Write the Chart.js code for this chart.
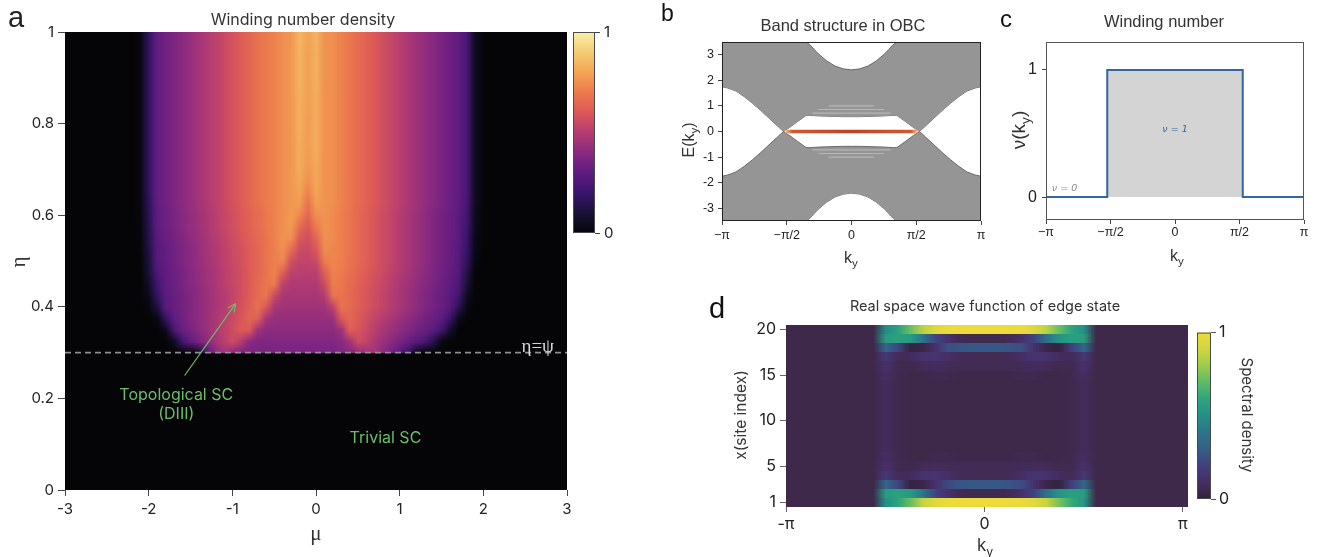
<!DOCTYPE html>
<html lang="en">
<head>
<meta charset="utf-8">
<title>Winding number / edge state figure</title>
<script src="https://cdn.jsdelivr.net/npm/chart.js@4.4.1/dist/chart.umd.min.js"></script>
<style>
  html, body { margin: 0; padding: 0; background: #fff; }
  #figure { position: relative; width: 1324px; height: 557px; overflow: hidden; background: #fff; }
  #figure canvas { position: absolute; }
</style>
</head>
<body>
<div id="figure">
  <canvas id="chart-a" width="640" height="557" style="left:0;top:0"></canvas>
  <canvas id="cbar-a"  width="80"  height="260" style="left:560px;top:0"></canvas>
  <canvas id="chart-b" width="360" height="280" style="left:640px;top:0"></canvas>
  <canvas id="chart-c" width="324" height="280" style="left:1000px;top:0"></canvas>
  <canvas id="chart-d" width="524" height="267" style="left:700px;top:290px"></canvas>
  <canvas id="cbar-d"  width="134" height="200" style="left:1190px;top:320px"></canvas>
</div>
<script>
'use strict';

const PI = Math.PI;

// ─────────────────────────────────────────────
// PANEL A — winding number density (rows = eta, columns = mu)
// lower part sampled finer in eta than the upper part
// ─────────────────────────────────────────────

const A_MU = [-2.3,-2.2,-2.1,-2.0,-1.9,-1.8,-1.7,-1.6,-1.5,-1.4,-1.3,-1.2,-1.1,-1.0,-0.9,-0.8,-0.7,-0.6,-0.5,-0.4,-0.3,-0.2,-0.1,0,
              0.1,0.2,0.3,0.4,0.5,0.6,0.7,0.8,0.9,1.0,1.1,1.2,1.3,1.4,1.5,1.6,1.7,1.8,1.9,2.0,2.1];

const A_ETA_LOW = [0.300,0.325,0.350,0.375,0.400,0.425,0.450,0.475,0.500,0.525,0.550,0.575,0.600,0.625,0.650,0.675,0.700];
const A_ETA_HIGH = [0.70,0.75,0.80,0.85,0.90,0.95,1.00];

const A_D300 = [0,0,0,0,0,0,0,0,0,0.06,0.26,0.40,0.46,0.40,0.37,0.36,0.36,0.36,0.36,0.36,0.36,0.36,0.36,0.36,0.36,0.36,0.37,
                0.38,0.41,0.45,0.46,0.40,0.34,0.28,0.18,0.04,0,0,0,0,0,0,0,0,0];
const A_D325 = [0,0,0,0,0,0,0.05,0.22,0.31,0.36,0.41,0.46,0.51,0.56,0.50,0.40,0.38,0.38,0.38,0.38,0.38,0.38,0.38,0.38,0.38,0.38,
                0.40,0.46,0.56,0.53,0.48,0.44,0.40,0.36,0.32,0.28,0.24,0.14,0.02,0,0,0,0,0,0];
const A_D350 = [0,0,0,0,0,0.04,0.24,0.32,0.36,0.40,0.44,0.48,0.52,0.56,0.61,0.60,0.45,0.41,0.41,0.41,0.41,0.41,0.41,0.41,0.41,0.41,
                0.45,0.62,0.59,0.55,0.51,0.47,0.44,0.41,0.38,0.35,0.32,0.29,0.22,0.08,0,0,0,0,0];
const A_D375 = [0,0,0,0,0.02,0.18,0.30,0.34,0.38,0.41,0.44,0.48,0.51,0.55,0.59,0.64,0.62,0.46,0.43,0.43,0.43,0.43,0.43,0.43,0.43,0.43,
                0.60,0.64,0.61,0.57,0.53,0.50,0.47,0.44,0.41,0.38,0.35,0.32,0.29,0.20,0.04,0,0,0,0];
const A_D400 = [0,0,0,0.02,0.12,0.28,0.32,0.35,0.38,0.41,0.44,0.47,0.50,0.54,0.58,0.62,0.67,0.60,0.47,0.45,0.45,0.45,0.45,0.45,0.45,
                0.52,0.68,0.65,0.62,0.59,0.56,0.53,0.50,0.47,0.44,0.41,0.38,0.35,0.32,0.28,0.16,0.02,0,0,0];
const A_D425 = [0,0,0,0.04,0.18,0.29,0.32,0.35,0.38,0.41,0.44,0.47,0.50,0.53,0.57,0.61,0.65,0.69,0.55,0.48,0.47,0.47,0.47,0.47,0.50,
                0.68,0.68,0.65,0.62,0.59,0.56,0.53,0.50,0.47,0.44,0.41,0.38,0.35,0.32,0.29,0.22,0.05,0,0,0];
const A_D450 = [0,0,0,0.07,0.22,0.30,0.33,0.36,0.39,0.42,0.45,0.48,0.51,0.54,0.57,0.61,0.65,0.69,0.70,0.52,0.49,0.49,0.49,0.49,0.56,
                0.71,0.69,0.66,0.63,0.60,0.57,0.54,0.51,0.48,0.45,0.42,0.39,0.36,0.33,0.30,0.25,0.10,0,0,0];
const A_D475 = [0,0,0,0.10,0.26,0.30,0.33,0.36,0.39,0.42,0.45,0.48,0.51,0.54,0.57,0.61,0.64,0.68,0.72,0.62,0.52,0.51,0.51,0.51,0.62,
                0.72,0.70,0.67,0.64,0.61,0.58,0.55,0.52,0.49,0.46,0.43,0.40,0.37,0.34,0.31,0.27,0.13,0,0,0];
const A_D500 = [0,0,0,0.12,0.28,0.31,0.34,0.37,0.40,0.43,0.46,0.49,0.52,0.55,0.58,0.61,0.64,0.68,0.71,0.73,0.57,0.53,0.53,0.55,0.70,
                0.73,0.71,0.68,0.65,0.62,0.59,0.56,0.53,0.50,0.47,0.44,0.41,0.38,0.35,0.32,0.28,0.17,0.02,0,0];
const A_D525 = [0,0,0.01,0.13,0.28,0.31,0.34,0.37,0.40,0.43,0.46,0.49,0.52,0.55,0.58,0.61,0.64,0.68,0.71,0.75,0.66,0.56,0.55,0.60,0.74,
                0.73,0.71,0.68,0.65,0.62,0.59,0.56,0.53,0.50,0.47,0.44,0.41,0.38,0.35,0.32,0.28,0.19,0.03,0,0];
const A_D550 = [0,0,0.01,0.14,0.29,0.32,0.35,0.38,0.41,0.44,0.47,0.50,0.53,0.56,0.59,0.62,0.65,0.68,0.72,0.76,0.75,0.60,0.57,0.64,0.75,
                0.74,0.71,0.68,0.65,0.62,0.59,0.56,0.53,0.50,0.47,0.44,0.41,0.38,0.35,0.32,0.29,0.20,0.03,0,0];
const A_D575 = [0,0,0.01,0.15,0.30,0.33,0.36,0.39,0.42,0.45,0.48,0.51,0.54,0.57,0.60,0.63,0.66,0.69,0.72,0.75,0.78,0.66,0.60,0.70,0.76,
                0.74,0.71,0.68,0.65,0.62,0.59,0.56,0.53,0.50,0.47,0.44,0.41,0.38,0.35,0.32,0.29,0.21,0.04,0,0];
const A_D600 = [0,0,0.02,0.16,0.30,0.33,0.36,0.39,0.42,0.45,0.48,0.51,0.54,0.57,0.60,0.63,0.66,0.69,0.72,0.75,0.78,0.73,0.64,0.75,0.76,
                0.74,0.71,0.68,0.65,0.62,0.59,0.56,0.53,0.50,0.47,0.44,0.41,0.38,0.35,0.32,0.29,0.22,0.04,0,0];
const A_D625 = [0,0,0.02,0.17,0.31,0.34,0.37,0.40,0.43,0.46,0.49,0.52,0.55,0.58,0.61,0.64,0.67,0.70,0.72,0.75,0.77,0.78,0.68,0.78,0.76,
                0.75,0.72,0.69,0.66,0.63,0.60,0.57,0.54,0.51,0.48,0.45,0.42,0.39,0.36,0.33,0.30,0.23,0.05,0,0];
const A_D650 = [0,0,0.02,0.18,0.31,0.34,0.37,0.40,0.43,0.46,0.49,0.52,0.55,0.58,0.61,0.64,0.67,0.70,0.72,0.75,0.77,0.80,0.72,0.80,0.76,
                0.75,0.72,0.69,0.66,0.63,0.60,0.57,0.54,0.51,0.48,0.45,0.42,0.39,0.36,0.33,0.30,0.24,0.05,0,0];
const A_D675 = [0,0,0.02,0.18,0.31,0.34,0.37,0.40,0.43,0.46,0.49,0.52,0.55,0.58,0.61,0.64,0.67,0.70,0.72,0.75,0.77,0.81,0.75,0.81,0.76,
                0.75,0.72,0.69,0.66,0.63,0.60,0.57,0.54,0.51,0.48,0.45,0.42,0.39,0.36,0.33,0.30,0.24,0.05,0,0];
const A_D700 = [0,0,0.02,0.18,0.31,0.34,0.37,0.40,0.43,0.46,0.49,0.52,0.55,0.58,0.61,0.64,0.67,0.70,0.72,0.75,0.77,0.82,0.77,0.81,0.76,
                0.75,0.72,0.69,0.66,0.63,0.60,0.57,0.54,0.51,0.48,0.45,0.42,0.39,0.36,0.33,0.30,0.24,0.05,0,0];
const A_D750 = [0,0,0.02,0.18,0.31,0.34,0.37,0.40,0.43,0.46,0.49,0.52,0.55,0.58,0.61,0.64,0.67,0.70,0.72,0.75,0.77,0.82,0.78,0.82,0.76,
                0.75,0.72,0.69,0.66,0.63,0.60,0.57,0.54,0.51,0.48,0.45,0.42,0.39,0.36,0.33,0.30,0.24,0.05,0,0];
const A_D800 = [0,0,0.02,0.18,0.31,0.34,0.37,0.40,0.43,0.46,0.49,0.52,0.55,0.58,0.61,0.64,0.67,0.70,0.72,0.75,0.77,0.83,0.78,0.82,0.76,
                0.75,0.72,0.69,0.66,0.63,0.60,0.57,0.54,0.51,0.48,0.45,0.42,0.39,0.36,0.33,0.30,0.24,0.05,0,0];
const A_D850 = [0,0,0.02,0.18,0.31,0.34,0.37,0.40,0.43,0.46,0.49,0.52,0.55,0.58,0.61,0.64,0.67,0.70,0.72,0.75,0.77,0.83,0.79,0.82,0.76,
                0.75,0.72,0.69,0.66,0.63,0.60,0.57,0.54,0.51,0.48,0.45,0.42,0.39,0.36,0.33,0.30,0.24,0.05,0,0];
const A_D900 = [0,0,0.02,0.18,0.31,0.34,0.37,0.40,0.43,0.46,0.49,0.52,0.55,0.58,0.61,0.64,0.67,0.70,0.72,0.75,0.77,0.84,0.79,0.83,0.76,
                0.75,0.72,0.69,0.66,0.63,0.60,0.57,0.54,0.51,0.48,0.45,0.42,0.39,0.36,0.33,0.30,0.24,0.05,0,0];
const A_D950 = [0,0,0.02,0.18,0.31,0.34,0.37,0.40,0.43,0.46,0.49,0.52,0.55,0.58,0.61,0.64,0.67,0.70,0.72,0.75,0.77,0.84,0.79,0.83,0.76,
                0.75,0.72,0.69,0.66,0.63,0.60,0.57,0.54,0.51,0.48,0.45,0.42,0.39,0.36,0.33,0.30,0.24,0.05,0,0];
const A_D1000 = [0,0,0.02,0.18,0.31,0.34,0.37,0.40,0.43,0.46,0.49,0.52,0.55,0.58,0.61,0.64,0.67,0.70,0.72,0.75,0.77,0.85,0.80,0.84,0.76,
                 0.75,0.72,0.69,0.66,0.63,0.60,0.57,0.54,0.51,0.48,0.45,0.42,0.39,0.36,0.33,0.30,0.24,0.05,0,0];

const A_DENSITY_LOW = [A_D300, A_D325, A_D350, A_D375, A_D400, A_D425, A_D450, A_D475, A_D500,
                       A_D525, A_D550, A_D575, A_D600, A_D625, A_D650, A_D675, A_D700];
const A_DENSITY_HIGH = [A_D700, A_D750, A_D800, A_D850, A_D900, A_D950, A_D1000];

const A_MU_TICKS  = [-3, -2, -1, 0, 1, 2, 3];
const A_ETA_TICKS = [0, 0.2, 0.4, 0.6, 0.8, 1];
const A_PSI       = 0.3;                 // eta = psi phase boundary
const A_ARROW_MU  = [-1.57, -0.96];
const A_ARROW_ETA = [0.25, 0.407];
const CBAR_TICKS  = [0, 1];

// ─────────────────────────────────────────────
// PANEL B — band structure (edges of the band continua)
// ─────────────────────────────────────────────

const B_K = [-3.1416,-3.0,-2.8,-2.6,-2.4,-2.2,-2.0,-1.8,-1.65,-1.5,-1.3,-1.1,-1.0,-0.9,-0.8,-0.6,-0.4,-0.2,0,
             0.2,0.4,0.6,0.8,0.9,1.0,1.1,1.3,1.5,1.65,1.8,2.0,2.2,2.4,2.6,2.8,3.0,3.1416];
const B_UP_TOP = [3.5,3.5,3.5,3.5,3.5,3.5,3.5,3.5,3.5,3.5,3.5,3.5,3.38,3.2,3.03,2.76,2.56,2.45,2.41,
                  2.45,2.56,2.76,3.03,3.2,3.38,3.5,3.5,3.5,3.5,3.5,3.5,3.5,3.5,3.5,3.5,3.5,3.5];
const B_UP_BOT = [1.75,1.7,1.58,1.36,1.1,0.82,0.52,0.22,0,0.16,0.4,0.63,0.63,0.62,0.61,0.6,0.59,0.58,0.58,
                  0.58,0.59,0.6,0.61,0.62,0.63,0.63,0.4,0.16,0,0.22,0.52,0.82,1.1,1.36,1.58,1.7,1.75];
const B_LO_TOP = [-1.75,-1.7,-1.58,-1.36,-1.1,-0.82,-0.52,-0.22,0,-0.16,-0.4,-0.63,-0.63,-0.62,-0.61,-0.6,-0.59,-0.58,-0.58,
                  -0.58,-0.59,-0.6,-0.61,-0.62,-0.63,-0.63,-0.4,-0.16,0,-0.22,-0.52,-0.82,-1.1,-1.36,-1.58,-1.7,-1.75];
const B_LO_BOT = [-3.5,-3.5,-3.5,-3.5,-3.5,-3.5,-3.5,-3.5,-3.5,-3.5,-3.5,-3.5,-3.38,-3.2,-3.03,-2.76,-2.56,-2.45,-2.41,
                  -2.45,-2.56,-2.76,-3.03,-3.2,-3.38,-3.5,-3.5,-3.5,-3.5,-3.5,-3.5,-3.5,-3.5,-3.5,-3.5,-3.5,-3.5];

// sparse light streaks inside the inner bands
const B_STREAK_E  = [0.72, 0.86, 1.00, -0.72, -0.86, -1.00];
const B_STREAK_K0 = [-0.95, -0.80, -0.55, -0.95, -0.80, -0.55];
const B_STREAK_K1 = [0.95, 0.80, 0.55, 0.95, 0.80, 0.55];

// zero-energy edge state
const B_EDGE_K = [-1.6, 1.6];
const B_EDGE_E = [0, 0];

const K_TICKS   = [-PI, -PI / 2, 0, PI / 2, PI];
const K_LABELS  = ['−π', '−π/2', '0', 'π/2', 'π'];
const B_E_TICKS = [-3, -2, -1, 0, 1, 2, 3];

// ─────────────────────────────────────────────
// PANEL C — winding number
// ─────────────────────────────────────────────

const C_K  = [-PI, -1.65, -1.65, 1.65, 1.65, PI];
const C_NU = [0, 0, 1, 1, 0, 0];
const C_NU_TICKS = [0, 1];

// ─────────────────────────────────────────────
// PANEL D — edge state wave function (rows = site 1..20, columns = ky)
// ─────────────────────────────────────────────

const D_KY = [-3.142,-2.945,-2.749,-2.553,-2.356,-2.160,-1.963,-1.767,-1.571,-1.374,-1.178,-0.982,-0.785,-0.589,-0.393,-0.196,0,
              0.196,0.393,0.589,0.785,0.982,1.178,1.374,1.571,1.767,1.963,2.160,2.356,2.553,2.749,2.945,3.142];
const D_SITE = [1,2,3,4,5,6,7,8,9,10,11,12,13,14,15,16,17,18,19,20];

const D_R01 = [0.05,0.05,0.05,0.05,0.05,0.05,0.05,0.05, 0.50,0.60,0.72,0.88,0.96,0.99,1.00,1.00,1.00,1.00,1.00,0.99,0.96,0.88,0.74,0.62,0.52, 0.05,0.05,0.05,0.05,0.05,0.05,0.05,0.05];
const D_R02 = [0.05,0.05,0.05,0.05,0.05,0.05,0.05,0.05, 0.55,0.58,0.55,0.40,0.22,0.12,0.07,0.06,0.06,0.06,0.07,0.12,0.22,0.38,0.52,0.57,0.56, 0.05,0.05,0.05,0.05,0.05,0.05,0.05,0.05];
const D_R03 = [0.05,0.05,0.05,0.05,0.05,0.05,0.05,0.05, 0.33,0.22,0.02,0.04,0.12,0.24,0.27,0.28,0.28,0.28,0.27,0.24,0.12,0.04,0.02,0.20,0.34, 0.05,0.05,0.05,0.05,0.05,0.05,0.05,0.05];
const D_R04 = [0.05,0.05,0.05,0.05,0.05,0.05,0.05,0.05, 0.16,0.08,0.09,0.13,0.14,0.11,0.08,0.07,0.07,0.07,0.08,0.11,0.14,0.13,0.09,0.08,0.16, 0.05,0.05,0.05,0.05,0.05,0.05,0.05,0.05];
const D_R05 = [0.05,0.05,0.05,0.05,0.05,0.05,0.05,0.05, 0.12,0.06,0.06,0.08,0.09,0.08,0.07,0.07,0.07,0.07,0.07,0.08,0.09,0.08,0.06,0.06,0.12, 0.05,0.05,0.05,0.05,0.05,0.05,0.05,0.05];
const D_R06 = [0.05,0.05,0.05,0.05,0.05,0.05,0.05,0.05, 0.10,0.06,0.05,0.05,0.06,0.06,0.05,0.05,0.05,0.05,0.05,0.06,0.06,0.05,0.05,0.06,0.10, 0.05,0.05,0.05,0.05,0.05,0.05,0.05,0.05];
const D_R07 = [0.05,0.05,0.05,0.05,0.05,0.05,0.05,0.05, 0.09,0.055,0.05,0.05,0.05,0.05,0.05,0.05,0.05,0.05,0.05,0.05,0.05,0.05,0.05,0.055,0.09, 0.05,0.05,0.05,0.05,0.05,0.05,0.05,0.05];
const D_R08 = [0.05,0.05,0.05,0.05,0.05,0.05,0.05,0.05, 0.09,0.055,0.05,0.05,0.05,0.05,0.05,0.05,0.05,0.05,0.05,0.05,0.05,0.05,0.05,0.055,0.09, 0.05,0.05,0.05,0.05,0.05,0.05,0.05,0.05];
const D_R09 = [0.05,0.05,0.05,0.05,0.05,0.05,0.05,0.05, 0.09,0.055,0.05,0.05,0.05,0.05,0.05,0.05,0.05,0.05,0.05,0.05,0.05,0.05,0.05,0.055,0.09, 0.05,0.05,0.05,0.05,0.05,0.05,0.05,0.05];
const D_R10 = [0.05,0.05,0.05,0.05,0.05,0.05,0.05,0.05, 0.09,0.055,0.05,0.05,0.05,0.05,0.05,0.05,0.05,0.05,0.05,0.05,0.05,0.05,0.05,0.055,0.09, 0.05,0.05,0.05,0.05,0.05,0.05,0.05,0.05];
const D_R11 = [0.05,0.05,0.05,0.05,0.05,0.05,0.05,0.05, 0.09,0.055,0.05,0.05,0.05,0.05,0.05,0.05,0.05,0.05,0.05,0.05,0.05,0.05,0.05,0.055,0.09, 0.05,0.05,0.05,0.05,0.05,0.05,0.05,0.05];
const D_R12 = [0.05,0.05,0.05,0.05,0.05,0.05,0.05,0.05, 0.09,0.055,0.05,0.05,0.05,0.05,0.05,0.05,0.05,0.05,0.05,0.05,0.05,0.05,0.05,0.055,0.09, 0.05,0.05,0.05,0.05,0.05,0.05,0.05,0.05];
const D_R13 = [0.05,0.05,0.05,0.05,0.05,0.05,0.05,0.05, 0.09,0.055,0.05,0.05,0.05,0.05,0.05,0.05,0.05,0.05,0.05,0.05,0.05,0.05,0.05,0.055,0.09, 0.05,0.05,0.05,0.05,0.05,0.05,0.05,0.05];
const D_R14 = [0.05,0.05,0.05,0.05,0.05,0.05,0.05,0.05, 0.09,0.055,0.05,0.05,0.05,0.05,0.05,0.05,0.05,0.05,0.05,0.05,0.05,0.05,0.05,0.055,0.09, 0.05,0.05,0.05,0.05,0.05,0.05,0.05,0.05];
const D_R15 = [0.05,0.05,0.05,0.05,0.05,0.05,0.05,0.05, 0.10,0.06,0.05,0.05,0.06,0.06,0.05,0.05,0.05,0.05,0.05,0.06,0.06,0.05,0.05,0.06,0.10, 0.05,0.05,0.05,0.05,0.05,0.05,0.05,0.05];
const D_R16 = [0.05,0.05,0.05,0.05,0.05,0.05,0.05,0.05, 0.12,0.06,0.06,0.08,0.09,0.08,0.07,0.07,0.07,0.07,0.07,0.08,0.09,0.08,0.06,0.06,0.12, 0.05,0.05,0.05,0.05,0.05,0.05,0.05,0.05];
const D_R17 = [0.05,0.05,0.05,0.05,0.05,0.05,0.05,0.05, 0.16,0.08,0.09,0.13,0.14,0.11,0.08,0.07,0.07,0.07,0.08,0.11,0.14,0.13,0.09,0.08,0.16, 0.05,0.05,0.05,0.05,0.05,0.05,0.05,0.05];
const D_R18 = [0.05,0.05,0.05,0.05,0.05,0.05,0.05,0.05, 0.33,0.22,0.02,0.04,0.12,0.25,0.27,0.28,0.28,0.28,0.27,0.25,0.12,0.04,0.02,0.20,0.34, 0.05,0.05,0.05,0.05,0.05,0.05,0.05,0.05];
const D_R19 = [0.05,0.05,0.05,0.05,0.05,0.05,0.05,0.05, 0.55,0.58,0.55,0.40,0.22,0.12,0.07,0.06,0.06,0.06,0.07,0.12,0.22,0.38,0.52,0.57,0.56, 0.05,0.05,0.05,0.05,0.05,0.05,0.05,0.05];
const D_R20 = [0.05,0.05,0.05,0.05,0.05,0.05,0.05,0.05, 0.48,0.58,0.72,0.86,0.95,0.99,1.00,1.00,1.00,1.00,1.00,0.99,0.95,0.86,0.72,0.60,0.50, 0.05,0.05,0.05,0.05,0.05,0.05,0.05,0.05];

const D_DENSITY = [D_R01, D_R02, D_R03, D_R04, D_R05, D_R06, D_R07, D_R08, D_R09, D_R10,
                   D_R11, D_R12, D_R13, D_R14, D_R15, D_R16, D_R17, D_R18, D_R19, D_R20];

const D_KY_TICKS   = [-PI, 0, PI];
const D_KY_LABELS  = ['-π', '0', 'π'];
const D_SITE_TICKS = [1, 5, 10, 15, 20];

// ─────────────────────────────────────────────
// COLOUR MAPS (sampled from the reference colour bars)
// ─────────────────────────────────────────────

const WARM_STOPS = [
  [0.0, '#050508'], [0.1, '#1a1238'], [0.2, '#3a146e'], [0.3, '#5f1c80'], [0.4, '#8a2a80'],
  [0.5, '#b53c72'], [0.6, '#dc5858'], [0.7, '#ec7a4c'], [0.8, '#f3a455'], [0.9, '#f4cc74'], [1.0, '#f7f0a8'],
];
const VIRIDIS_STOPS = [
  [0.00, '#2e2140'], [0.05, '#3f294b'], [0.12, '#48306c'], [0.20, '#413f7e'], [0.30, '#355e88'],
  [0.40, '#2b768a'], [0.50, '#239088'], [0.60, '#2da57c'], [0.70, '#5bbb66'], [0.80, '#9ccb4c'],
  [0.90, '#cfd63e'], [1.00, '#ecdb3a'],
];

function colormap(stops) {
  const pts = stops.map(([v, hex]) => [v, parseInt(hex.slice(1, 3), 16), parseInt(hex.slice(3, 5), 16), parseInt(hex.slice(5, 7), 16)]);
  return (t) => {
    const v = Math.min(1, Math.max(0, t));
    for (let i = 1; i < pts.length; i++) {
      if (v <= pts[i][0]) {
        const a = pts[i - 1], b = pts[i];
        const f = (v - a[0]) / (b[0] - a[0]);
        return [0, 1, 2].map(c => Math.round(a[c + 1] + (b[c + 1] - a[c + 1]) * f));
      }
    }
    const last = pts[pts.length - 1];
    return [last[1], last[2], last[3]];
  };
}
const warm    = colormap(WARM_STOPS);
const viridis = colormap(VIRIDIS_STOPS);
const rgb = (c) => `rgb(${c[0]},${c[1]},${c[2]})`;

// ─────────────────────────────────────────────
// DRAW HELPERS
// ─────────────────────────────────────────────

// grid cells -> small bitmap -> stretched over the scale extent of the cells
function drawGrid(chart, xs, ys, rows, cmap, { smoothY = true, yClip = null } = {}) {
  const { ctx, chartArea: area, scales: { x, y } } = chart;
  const nx = xs.length, ny = ys.length;
  const off = document.createElement('canvas');
  off.width = nx; off.height = ny;
  const octx = off.getContext('2d');
  const img = octx.createImageData(nx, ny);
  rows.forEach((row, r) => {
    const py = ny - 1 - r;
    row.forEach((v, c) => {
      const col = cmap(v);
      const k = (py * nx + c) * 4;
      img.data[k] = col[0]; img.data[k + 1] = col[1]; img.data[k + 2] = col[2]; img.data[k + 3] = 255;
    });
  });
  octx.putImageData(img, 0, 0);

  const dx = (xs[nx - 1] - xs[0]) / (nx - 1);
  const dy = (ys[ny - 1] - ys[0]) / (ny - 1);
  const left   = x.getPixelForValue(xs[0] - dx / 2);
  const right  = x.getPixelForValue(xs[nx - 1] + dx / 2);
  const top    = y.getPixelForValue(ys[ny - 1] + dy / 2);
  const bottom = y.getPixelForValue(ys[0] - dy / 2);

  ctx.save();
  ctx.beginPath();
  // whole pixels so that neighbouring grids overlap instead of leaving a seam
  const clipTop    = yClip ? Math.max(area.top, Math.floor(y.getPixelForValue(yClip[1]))) : area.top;
  const clipBottom = yClip ? Math.min(area.bottom, Math.ceil(y.getPixelForValue(yClip[0]))) : area.bottom;
  ctx.rect(area.left, clipTop, area.width, clipBottom - clipTop);
  ctx.clip();
  if (smoothY) {
    ctx.imageSmoothingEnabled = true;
    ctx.drawImage(off, left, top, right - left, bottom - top);
  } else {
    const mid = document.createElement('canvas');
    mid.width = Math.max(1, Math.round(right - left));
    mid.height = ny;
    const mctx = mid.getContext('2d');
    mctx.imageSmoothingEnabled = true;
    mctx.drawImage(off, 0, 0, mid.width, ny);
    ctx.imageSmoothingEnabled = false;
    ctx.drawImage(mid, left, top, right - left, bottom - top);
  }
  ctx.restore();
}

// text with optional subscript parts, centred on (x, y)
function richText(ctx, parts, x, y, { size, family, color = '#222', rotate = 0, style = '', align = 'center' }) {
  const sub = size * 0.72;
  const fontFor = (p) => `${style} ${p.sub ? sub : size}px ${family}`.trim();
  ctx.save();
  ctx.translate(x, y);
  ctx.rotate(rotate);
  ctx.fillStyle = color;
  ctx.textAlign = 'left';
  ctx.textBaseline = 'alphabetic';
  const widths = parts.map(p => { ctx.font = fontFor(p); return ctx.measureText(p.t).width; });
  const total = widths.reduce((a, b) => a + b, 0);
  let cx = align === 'center' ? -total / 2 : (align === 'right' ? -total : 0);
  const base = size * 0.36;
  parts.forEach((p, i) => {
    ctx.font = fontFor(p);
    ctx.fillText(p.t, cx, base + (p.sub ? size * 0.26 : 0));
    cx += widths[i];
  });
  ctx.restore();
}
const txt = (t) => [{ t }];
const KY  = [{ t: 'k' }, { t: 'y', sub: true }];

function frame(chart, color, width = 1) {
  const { ctx, chartArea: a } = chart;
  ctx.save();
  ctx.strokeStyle = color;
  ctx.lineWidth = width;
  ctx.strokeRect(a.left + 0.5, a.top + 0.5, a.width - 1, a.height - 1);
  ctx.restore();
}

function points(xs, ys) {
  return xs.map((x, i) => ({ x, y: ys[i] }));
}

function axis({ min, max, ticks, labels = null, font, size, position, tickLength = 5, padding = 3,
                tickColor = '#444', color = '#222', display = true }) {
  return {
    type: 'linear', position, min, max, display,
    afterBuildTicks: (s) => { s.ticks = ticks.map(v => ({ value: v })); },
    afterFit: (s) => { if (s.isHorizontal()) s.height = size; else s.width = size; },
    ticks: {
      font, color, padding, autoSkip: false, maxRotation: 0, minRotation: 0,
      callback: (v, i) => (labels ? labels[i] : String(v)),
    },
    grid: { display: true, drawOnChartArea: false, drawTicks: true, tickLength, tickColor, tickWidth: 1 },
    border: { display: false },
  };
}

const BASE_OPTIONS = {
  responsive: false,
  animation: false,
  devicePixelRatio: 1,
  events: [],
  plugins: { legend: { display: false }, tooltip: { enabled: false }, title: { display: false } },
  elements: { point: { radius: 0 }, line: { tension: 0 } },
};

function opts(extra) {
  return Object.assign({}, BASE_OPTIONS, extra);
}

const INTER = 'Inter';
const SANS  = '"Liberation Sans", Arial';
const SERIF = '"Liberation Serif", "DejaVu Serif", serif';

// ─────────────────────────────────────────────
// PANEL A
// ─────────────────────────────────────────────

const GREEN = '#6cbd6a';

const panelAPlugin = {
  id: 'panelA',
  beforeDatasetsDraw(chart) {
    const { ctx, chartArea: a } = chart;
    ctx.save();
    ctx.fillStyle = rgb(warm(0));
    ctx.fillRect(a.left, a.top, a.width, a.height);
    ctx.restore();
    drawGrid(chart, A_MU, A_ETA_HIGH, A_DENSITY_HIGH, warm, { smoothY: true, yClip: [A_ETA_HIGH[0], 1.1] });
    drawGrid(chart, A_MU, A_ETA_LOW, A_DENSITY_LOW, warm, { smoothY: true, yClip: [A_ETA_LOW[0], A_ETA_LOW[A_ETA_LOW.length - 1]] });
  },
  afterDatasetsDraw(chart) {
    const { ctx, scales: { x, y } } = chart;
    // arrow head
    const x0 = x.getPixelForValue(A_ARROW_MU[0]), y0 = y.getPixelForValue(A_ARROW_ETA[0]);
    const x1 = x.getPixelForValue(A_ARROW_MU[1]), y1 = y.getPixelForValue(A_ARROW_ETA[1]);
    const ang = Math.atan2(y1 - y0, x1 - x0);
    ctx.save();
    ctx.strokeStyle = GREEN;
    ctx.lineWidth = 1.2;
    ctx.beginPath();
    [-0.45, 0.45].forEach(d => {
      ctx.moveTo(x1, y1);
      ctx.lineTo(x1 - 9 * Math.cos(ang + d), y1 - 9 * Math.sin(ang + d));
    });
    ctx.stroke();
    ctx.restore();

    richText(ctx, txt('η=ψ'), x.getPixelForValue(2.65), y.getPixelForValue(0.316), { size: 19, family: SERIF, color: '#d4d4d4' });
    richText(ctx, txt('Topological SC'), x.getPixelForValue(-1.67), y.getPixelForValue(0.208), { size: 16, family: INTER, color: GREEN });
    richText(ctx, txt('(DIII)'), x.getPixelForValue(-1.67), y.getPixelForValue(0.167), { size: 16, family: INTER, color: GREEN });
    richText(ctx, txt('Trivial SC'), x.getPixelForValue(0.83), y.getPixelForValue(0.116), { size: 16, family: INTER, color: GREEN });
  },
  afterDraw(chart) {
    const { ctx } = chart;
    ctx.save();
    ctx.fillStyle = '#222';
    ctx.font = `29px ${SANS}`;
    ctx.fillText('a', 8, 27);
    ctx.restore();
    richText(ctx, txt('Winding number density'), 303, 19, { size: 16, family: INTER, color: '#333' });
    richText(ctx, txt('η'), 17, 262, { size: 21, family: SERIF, color: '#333', rotate: -PI / 2 });
    richText(ctx, txt('μ'), 316, 532, { size: 21, family: SERIF, color: '#333' });
  },
};

new Chart(document.getElementById('chart-a'), {
  type: 'line',
  data: {
    datasets: [
      { data: points(A_ARROW_MU, A_ARROW_ETA), borderColor: GREEN, borderWidth: 1.2, fill: false },
      { data: points([-3, 3], [A_PSI, A_PSI]), borderColor: '#8e8e8e', borderWidth: 1.6, borderDash: [6, 4], fill: false },
    ],
  },
  options: opts({
    layout: { padding: { left: 0, right: 73, top: 32, bottom: 0 } },
    scales: {
      x: axis({ min: -3, max: 3, ticks: A_MU_TICKS, font: { family: INTER, size: 15 }, size: 67, position: 'bottom', tickLength: 6, padding: 4 }),
      y: axis({ min: 0, max: 1, ticks: A_ETA_TICKS, font: { family: INTER, size: 15 }, size: 65, position: 'left', tickLength: 7, padding: 4 }),
    },
  }),
  plugins: [panelAPlugin],
});

// colour bars
function colorbarPlugin(id, cmap, extra) {
  return {
    id,
    beforeDatasetsDraw(chart) {
      const { ctx, chartArea: a } = chart;
      const g = ctx.createLinearGradient(0, a.bottom, 0, a.top);
      for (let i = 0; i <= 20; i++) g.addColorStop(i / 20, rgb(cmap(i / 20)));
      ctx.save();
      ctx.fillStyle = g;
      ctx.fillRect(a.left, a.top, a.width, a.height);
      ctx.restore();
      frame(chart, '#4a4a4a', 1);
    },
    afterDraw(chart) { if (extra) extra(chart); },
  };
}

new Chart(document.getElementById('cbar-a'), {
  type: 'line',
  data: { datasets: [] },
  options: opts({
    layout: { padding: { left: 13, right: 0, top: 32, bottom: 27 } },
    scales: {
      x: { type: 'linear', display: false, min: 0, max: 1 },
      y: axis({ min: 0, max: 1, ticks: CBAR_TICKS, font: { family: INTER, size: 15 }, size: 45, position: 'right', tickLength: 5, padding: 4 }),
    },
  }),
  plugins: [colorbarPlugin('cbarA', warm)],
});

// ─────────────────────────────────────────────
// PANEL B
// ─────────────────────────────────────────────

const bandGray   = '#959595';
const bandBorder = '#6a6a6a';

const streakSets = B_STREAK_E.map((e, i) => ({
  data: points([B_STREAK_K0[i], B_STREAK_K1[i]], [e, e]),
  borderColor: 'rgba(225,225,225,0.45)', borderWidth: 1.2, fill: false,
}));

function edgeGradient(c) {
  const { chart } = c;
  const x = chart.scales && chart.scales.x;
  if (!x) return '#c4462a';
  const p0 = x.getPixelForValue(B_EDGE_K[0]);
  const p1 = x.getPixelForValue(B_EDGE_K[1]);
  if (!Number.isFinite(p0) || !Number.isFinite(p1) || p0 === p1) return '#c4462a';
  const g = chart.ctx.createLinearGradient(p0, 0, p1, 0);
  g.addColorStop(0, '#f4c47e');
  g.addColorStop(0.05, '#cf5a30');
  g.addColorStop(0.5, '#bf4128');
  g.addColorStop(0.95, '#cf5a30');
  g.addColorStop(1, '#f4c47e');
  return g;
}

new Chart(document.getElementById('chart-b'), {
  type: 'line',
  data: {
    datasets: [
      { data: points(B_EDGE_K, B_EDGE_E), borderWidth: 3.5, fill: false, borderCapStyle: 'butt', borderColor: edgeGradient },
      ...streakSets,
      { data: points(B_K, B_UP_TOP), borderColor: bandBorder, borderWidth: 1, backgroundColor: bandGray, fill: '+1' },
      { data: points(B_K, B_UP_BOT), borderColor: bandBorder, borderWidth: 1, fill: false },
      { data: points(B_K, B_LO_TOP), borderColor: bandBorder, borderWidth: 1, backgroundColor: bandGray, fill: '+1' },
      { data: points(B_K, B_LO_BOT), borderColor: bandBorder, borderWidth: 1, fill: false },
    ],
  },
  options: opts({
    layout: { padding: { left: 0, right: 19, top: 42, bottom: 0 } },
    scales: {
      x: axis({ min: -PI, max: PI, ticks: K_TICKS, labels: K_LABELS, font: { family: SANS, size: 12.5 }, size: 59, position: 'bottom', tickLength: 4, padding: 3 }),
      y: axis({ min: -3.5, max: 3.5, ticks: B_E_TICKS, font: { family: SANS, size: 12.5 }, size: 82, position: 'left', tickLength: 4, padding: 4 }),
    },
  }),
  plugins: [{
    id: 'panelB',
    afterDraw(chart) {
      const { ctx } = chart;
      frame(chart, '#222', 1);
      ctx.save();
      ctx.fillStyle = '#111';
      ctx.font = `23px ${SANS}`;
      ctx.fillText('b', 21, 21);
      ctx.restore();
      richText(ctx, txt('Band structure in OBC'), 203, 25, { size: 16.5, family: SANS, color: '#333' });
      richText(ctx, [{ t: 'E(k' }, { t: 'y', sub: true }, { t: ')' }], 48, 140, { size: 16, family: SANS, color: '#333', rotate: -PI / 2 });
      richText(ctx, KY, 211, 257, { size: 16, family: SANS, color: '#333' });
    },
  }],
});

// ─────────────────────────────────────────────
// PANEL C
// ─────────────────────────────────────────────

new Chart(document.getElementById('chart-c'), {
  type: 'line',
  data: {
    datasets: [
      { data: points(C_K, C_NU), borderColor: '#3466a5', borderWidth: 2, backgroundColor: '#d4d4d4', fill: 'origin' },
    ],
  },
  options: opts({
    layout: { padding: { left: 0, right: 20, top: 42, bottom: 0 } },
    scales: {
      x: axis({ min: -PI, max: PI, ticks: K_TICKS, labels: K_LABELS, font: { family: SANS, size: 12.5 }, size: 60, position: 'bottom', tickLength: 4, padding: 1 }),
      y: axis({ min: -0.18, max: 1.22, ticks: C_NU_TICKS, font: { family: SANS, size: 16 }, size: 46, position: 'left', tickLength: 4, padding: 5 }),
    },
  }),
  plugins: [{
    id: 'panelC',
    afterDraw(chart) {
      const { ctx, scales: { x, y } } = chart;
      frame(chart, '#555', 1);
      ctx.save();
      ctx.fillStyle = '#111';
      ctx.font = `24px ${SANS}`;
      ctx.fillText('c', 0, 27);
      ctx.restore();
      richText(ctx, txt('Winding number'), 164, 21, { size: 16.5, family: SANS, color: '#333' });
      richText(ctx, [{ t: 'ν(k' }, { t: 'y', sub: true }, { t: ')' }], 18, 130, { size: 19, family: SANS, color: '#333', rotate: -PI / 2 });
      richText(ctx, KY, 177, 255, { size: 16, family: SANS, color: '#333' });
      richText(ctx, txt('ν = 1'), x.getPixelForValue(0), y.getPixelForValue(0.54), { size: 9.5, family: '"DejaVu Sans"', style: 'italic', color: '#3466a5' });
      richText(ctx, txt('ν = 0'), x.getPixelForValue(-2.69), y.getPixelForValue(0.075), { size: 9.5, family: '"DejaVu Sans"', style: 'italic', color: '#8a8a8a' });
    },
  }],
});

// ─────────────────────────────────────────────
// PANEL D
// ─────────────────────────────────────────────

new Chart(document.getElementById('chart-d'), {
  type: 'line',
  data: { datasets: [] },
  options: opts({
    layout: { padding: { left: 0, right: 36, top: 35, bottom: 0 } },
    scales: {
      x: axis({ min: -PI, max: PI + 0.08, ticks: D_KY_TICKS, labels: D_KY_LABELS, font: { family: INTER, size: 16 }, size: 50, position: 'bottom', tickLength: 5, padding: 3, tickColor: '#666' }),
      y: axis({ min: 0.5, max: 20.5, ticks: D_SITE_TICKS, font: { family: INTER, size: 16 }, size: 86, position: 'left', tickLength: 6, padding: 4, tickColor: '#666' }),
    },
  }),
  plugins: [{
    id: 'panelD',
    beforeDatasetsDraw(chart) {
      drawGrid(chart, D_KY, D_SITE, D_DENSITY, viridis, { smoothY: false });
    },
    afterDraw(chart) {
      const { ctx } = chart;
      ctx.save();
      ctx.fillStyle = '#111';
      ctx.font = `29px ${SANS}`;
      ctx.fillText('d', 9, 28);
      ctx.restore();
      richText(ctx, txt('Real space wave function of edge state'), 285, 16, { size: 14.5, family: INTER, color: '#333' });
      richText(ctx, txt('x(site index)'), 40, 125, { size: 15.5, family: INTER, color: '#333', rotate: -PI / 2 });
      richText(ctx, KY, 285, 255, { size: 17, family: INTER, color: '#333' });
    },
  }],
});

new Chart(document.getElementById('cbar-d'), {
  type: 'line',
  data: { datasets: [] },
  options: opts({
    layout: { padding: { left: 7, right: 0, top: 12, bottom: 21 } },
    scales: {
      x: { type: 'linear', display: false, min: 0, max: 1 },
      y: axis({ min: 0, max: 1, ticks: CBAR_TICKS, font: { family: INTER, size: 16 }, size: 113, position: 'right', tickLength: 5, padding: 3, tickColor: '#555' }),
    },
  }),
  plugins: [colorbarPlugin('cbarD', viridis, (chart) => {
    richText(chart.ctx, txt('Spectral density'), 57, 95, { size: 15, family: INTER, color: '#333', rotate: PI / 2 });
  })],
});
</script>
</body>
</html>
